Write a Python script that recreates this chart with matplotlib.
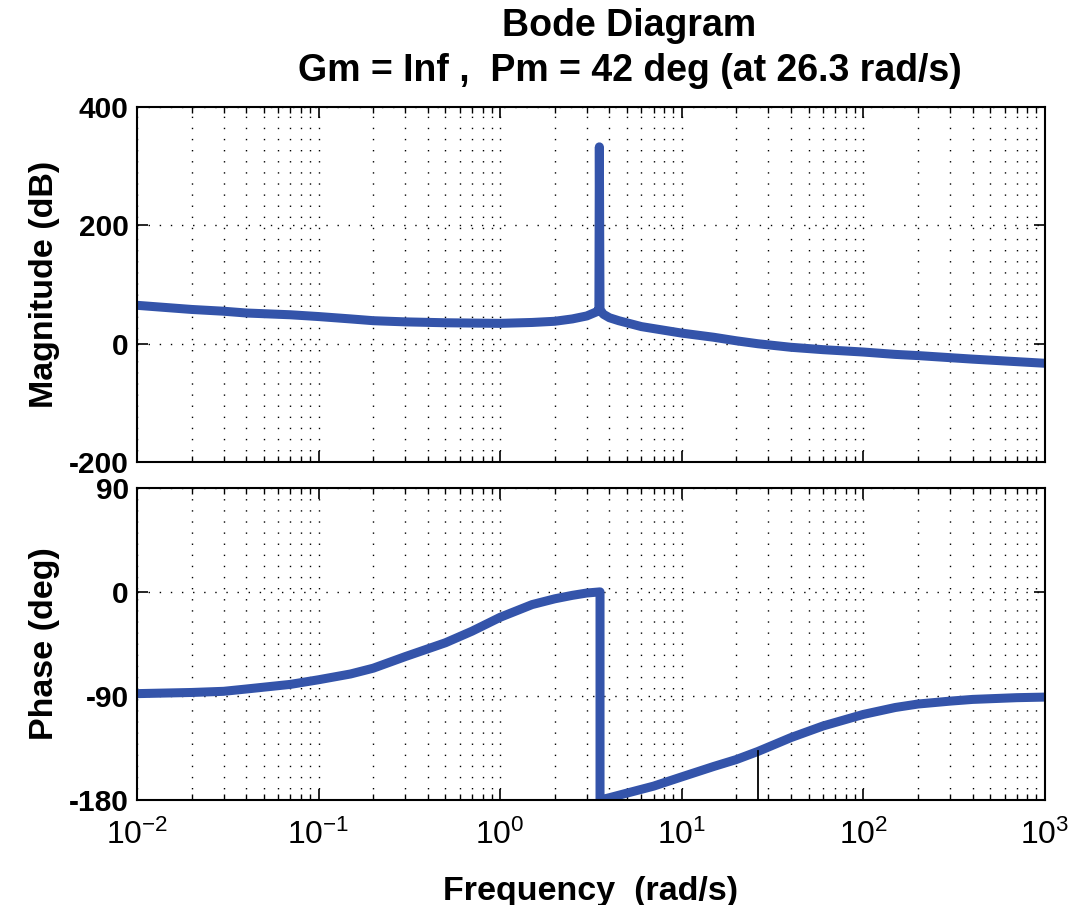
import matplotlib
matplotlib.use("Agg")
import matplotlib.pyplot as plt
from matplotlib.ticker import LogLocator, NullFormatter

# magnitude curve
mag_freq = [0.01, 0.02, 0.03, 0.04, 0.07, 0.1, 0.15, 0.2, 0.3, 0.5, 0.7, 1.0, 1.5, 2.0,
            2.5, 3.0, 3.4, 3.5, 3.52, 3.55, 3.7, 4.0, 4.5, 6.0, 10.0, 15.0, 20.0, 26.3,
            40.0, 60.0, 100.0, 150.0, 200.0, 400.0, 1000.0]
mag_db = [65, 58, 55, 52, 49, 46, 42, 39, 37, 35.5, 35, 34.5, 36, 38,
          42, 47, 54, 58, 333, 58, 50, 44, 39, 29, 18, 11, 5, 0,
          -6, -10, -14, -18, -20, -26, -33]

# phase curve
phase_freq = [0.01, 0.02, 0.03, 0.04, 0.07, 0.1, 0.15, 0.2, 0.3, 0.5, 0.7, 1.0, 1.5,
              2.0, 2.5, 3.0, 3.55, 3.55, 4.0, 5.0, 7.0, 10.0, 15.0, 20.0, 26.3, 40.0,
              60.0, 100.0, 150.0, 200.0, 300.0, 400.0, 700.0, 1000.0]
phase_deg = [-88, -87, -86, -84, -80, -76, -71, -66, -56, -44, -34, -22, -11,
             -6, -3, -1, 0, -180, -178, -174, -168, -160, -151, -145, -138, -126,
             -116, -106, -100, -97, -94.5, -93, -91.5, -91]

# phase margin marker
pm_freq = 26.3
pm_phase = -138

blue = "#3454AA"
plt.rcParams["font.family"] = ["Liberation Sans", "DejaVu Sans"]
plt.rcParams["mathtext.fontset"] = "custom"
plt.rcParams["mathtext.rm"] = "Liberation Sans:bold"
plt.rcParams["mathtext.it"] = "Liberation Sans:bold"
plt.rcParams["mathtext.bf"] = "Liberation Sans:bold"
plt.rcParams["axes.unicode_minus"] = False

fig = plt.figure(figsize=(10.73, 9.05), dpi=100)
ax1 = fig.add_axes([0.1277, 0.4895, 0.846, 0.392])
ax2 = fig.add_axes([0.1277, 0.116, 0.846, 0.345])

ax1.semilogx(mag_freq, mag_db, color=blue, lw=6.5)
ax2.semilogx(phase_freq, phase_deg, color=blue, lw=6.5)
ax2.plot([pm_freq, pm_freq], [-180, pm_phase], color="black", lw=1.3)

ax1.set_ylim(-200, 400)
ax1.set_yticks([-200, 0, 200, 400])
ax2.set_ylim(-180, 90)
ax2.set_yticks([-180, -90, 0, 90])

dots = (0, (1, 7))
for ax in (ax1, ax2):
    ax.set_xlim(1e-2, 1e3)
    ax.xaxis.set_major_locator(LogLocator(base=10, numticks=10))
    ax.xaxis.set_minor_locator(LogLocator(base=10, subs=range(2, 10), numticks=10))
    ax.xaxis.set_minor_formatter(NullFormatter())
    ax.grid(True, which="major", color="black", linestyle=dots, lw=1.0)
    ax.grid(True, which="minor", axis="x", color="black", linestyle=dots, lw=1.0)
    ax.tick_params(which="both", direction="in", top=True, right=True)
    ax.tick_params(axis="x", labelsize=23)
    ax.tick_params(axis="y", labelsize=21.5, pad=6)
    ax.tick_params(which="major", length=8, width=1.2)
    ax.tick_params(which="minor", length=4, width=1.0)
    for lab in ax.get_yticklabels():
        lab.set_fontweight("bold")
    for s in ax.spines.values():
        s.set_linewidth(1.5)

ax2.tick_params(axis="x", pad=14)
ax1.tick_params(labelbottom=False)
ax1.set_ylabel("Magnitude (dB)", fontsize=24.5, fontweight="bold", labelpad=6)
ax2.set_ylabel("Phase (deg)", fontsize=24.5, fontweight="bold", labelpad=6)
ax2.set_xlabel("Frequency  (rad/s)", fontsize=24.5, fontweight="bold", labelpad=18)

fig.text(0.5866, 0.971, "Bode Diagram", ha="center", va="center", fontsize=27, fontweight="bold")
fig.text(0.5866, 0.922, "Gm = Inf ,  Pm = 42 deg (at 26.3 rad/s)", ha="center", va="center",
         fontsize=27, fontweight="bold")

fig.savefig("out.png", dpi=100)
